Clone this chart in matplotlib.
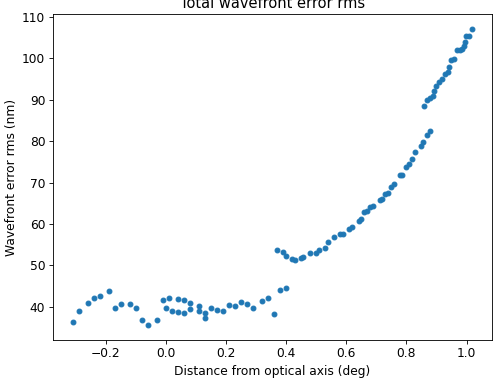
import numpy as np
import matplotlib
matplotlib.use("Agg")
import matplotlib.pyplot as plt

# distance from optical axis (deg) and wavefront error rms (nm)
distance = [
    -0.309, -0.289, -0.259, -0.240, -0.220, -0.189, -0.169, -0.150, -0.120,
    -0.100, -0.080, -0.060, -0.030, -0.010, 0.000, 0.010, 0.020, 0.040, 0.040,
    0.059, 0.060, 0.079, 0.079, 0.110, 0.109, 0.130, 0.129, 0.149, 0.169,
    0.189, 0.209, 0.229, 0.250, 0.270, 0.290, 0.320, 0.340, 0.359, 0.380,
    0.399, 0.370, 0.390, 0.399, 0.419, 0.430, 0.448, 0.457, 0.479, 0.498,
    0.508, 0.528, 0.538, 0.558, 0.580, 0.589, 0.610, 0.619, 0.641, 0.650,
    0.660, 0.669, 0.680, 0.688, 0.711, 0.719, 0.730, 0.739, 0.750, 0.758,
    0.777, 0.786, 0.797, 0.807, 0.817, 0.827, 0.847, 0.856, 0.867, 0.877,
    0.857, 0.867, 0.877, 0.887, 0.891, 0.897, 0.908, 0.917, 0.927, 0.937,
    0.941, 0.948, 0.958, 0.968, 0.978, 0.985, 0.990, 0.994, 0.999, 1.008,
    1.018,
]
error_rms = [
    36.4, 39.1, 40.9, 42.2, 42.6, 43.7, 39.6, 40.8, 40.6,
    39.8, 36.9, 35.6, 36.9, 41.7, 39.8, 42.2, 39.0, 42.0, 38.8,
    41.7, 38.5, 40.9, 39.4, 40.1, 39.1, 38.5, 37.4, 39.6, 39.2,
    39.0, 40.4, 40.2, 41.2, 40.8, 39.8, 41.5, 42.1, 38.3, 44.0,
    44.6, 53.7, 53.2, 52.3, 51.5, 51.4, 51.9, 52.0, 52.9, 53.1,
    53.8, 54.1, 55.6, 56.8, 57.5, 57.7, 58.7, 59.2, 60.7, 61.3,
    62.8, 63.1, 64.0, 64.4, 65.7, 66.1, 67.2, 67.6, 68.9, 69.6,
    71.8, 71.8, 73.7, 74.5, 75.6, 77.4, 78.9, 79.9, 81.4, 82.5,
    88.6, 90.0, 90.4, 90.9, 92.0, 93.4, 94.3, 94.9, 96.2, 96.8,
    97.8, 99.7, 99.9, 101.9, 101.9, 102.3, 102.9, 104.0, 105.3, 105.3,
    107.1,
]

plt.rcParams['font.size'] = 11.4

# a default 6.4in wide figure, rendered at reduced dpi
fig = plt.figure(figsize=(6.4, 4.936), dpi=77.19)
ax = fig.add_axes([0.107, 0.108, 0.889, 0.855])
ax.scatter(distance, error_rms, s=20, color="#1f77b4")
ax.set_title("Total wavefront error rms")
ax.set_xlabel("Distance from optical axis (deg)")
ax.set_ylabel("Wavefront error rms (nm)")
ax.set_yticks(np.arange(40, 111, 10))

fig.savefig("out.png", dpi=77.19)
